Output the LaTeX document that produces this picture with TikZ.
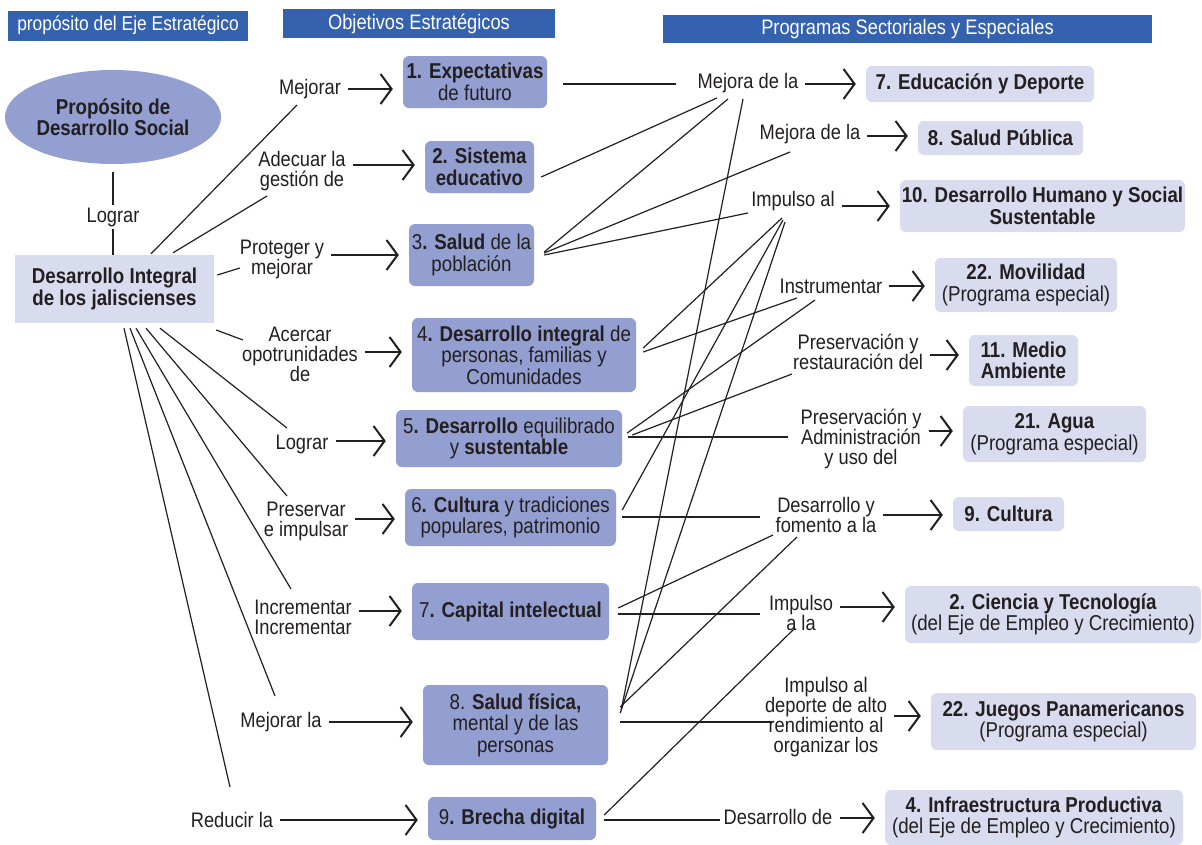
\documentclass[tikz,border=0pt]{standalone}
\usepackage{fontspec}
\setmainfont{Liberation Sans}[FakeStretch=0.87]
\usepackage{xcolor}
\usepackage{tikz}
\usetikzlibrary{arrows.meta,calc,shapes.geometric}

\definecolor{ejeazul}{HTML}{3562AE}
\definecolor{objazul}{HTML}{949FD1}
\definecolor{progazul}{HTML}{D9DBEF}
\definecolor{tinta}{HTML}{231F20}

\begin{document}
\begin{tikzpicture}[x=1pt, y=-1pt, color=tinta,
  font=\fontsize{21}{20}\selectfont,
  encab/.style={fill=ejeazul, text=white, inner sep=0pt},
  objbox/.style={fill=objazul, rounded corners=6pt, align=center, inner sep=0pt, font=\fontsize{21.5}{21.5}\selectfont},
  progbox/.style={fill=progazul, rounded corners=6pt, align=center, inner sep=0pt, font=\fontsize{21.5}{21.5}\selectfont},
  verbo/.style={align=center, inner sep=2pt},
  linea/.style={line width=1.2pt},
  flecha/.style={line width=2pt, -{Straight Barb[length=11pt,width=30pt]}, shorten <=5pt, shorten >=10pt}]
\path[use as bounding box, fill=white] (0,0) rectangle (1202,844);

% column headers
\node[encab, minimum width=240pt, minimum height=30pt, font=\fontsize{20}{20}\selectfont] (h1) at (128,25.5) {propósito del Eje Estratégico};
\node[encab, minimum width=272pt, minimum height=29pt] (h2) at (419,23.5) {Objetivos Estratégicos};
\node[encab, minimum width=489pt, minimum height=28pt] (h3) at (907.5,29) {Programas Sectoriales y Especiales};

% purpose -> integral development
\node[ellipse, fill=objazul, minimum width=206pt, minimum height=94pt, inner sep=0pt, align=center, font=\bfseries\fontsize{21.5}{21.5}\selectfont] (prop) at (113,117) {Propósito de\\Desarrollo Social};
\node[verbo] (lg0) at (113,217) {Lograr};
\node[fill=progazul, minimum width=199pt, minimum height=68pt, inner sep=0pt, align=center, font=\bfseries\fontsize{21.5}{21.5}\selectfont] (di) at (114.5,289) {Desarrollo Integral\\de los jaliscienses};
\draw[linea] ($(prop.south)+(0,8)$) -- (lg0.north);
\draw[linea] (lg0.south) -- (lg0.south |- di.north);

% verbs towards the objectives
\node[verbo] (vm1) at (310,89) {Mejorar};
\node[verbo] (vm2) at (302,171) {Adecuar la\\gestión de};
\node[verbo] (vm3) at (282,259) {Proteger y\\mejorar};
\node[verbo] (vm4) at (300,354) {Acercar\\opotrunidades\\de};
\node[verbo] (vm5) at (302,444) {Lograr};
\node[verbo] (vm6) at (306,521) {Preservar\\e impulsar};
\node[verbo] (vm7) at (303,617) {Incrementar\\Incrementar};
\node[verbo] (vm8) at (281,722) {Mejorar la};
\node[verbo] (vm9) at (232,820) {Reducir la};

% strategic objectives
\node[objbox, minimum width=144pt, minimum height=52pt] (o1) at (475,82) {\textbf{1. Expectativas}\\de futuro};
\node[objbox, minimum width=109pt, minimum height=52pt] (o2) at (479.5,167) {\textbf{2. Sistema}\\\textbf{educativo}};
\node[objbox, minimum width=125pt, minimum height=62pt] (o3) at (471.5,255) {3\textbf{. Salud} de la\\población};
\node[objbox, minimum width=224pt, minimum height=74pt] (o4) at (524,355) {4\textbf{. Desarrollo integral} de\\personas, familias y\\Comunidades};
\node[objbox, minimum width=226pt, minimum height=57pt] (o5) at (509,438.5) {5\textbf{. Desarrollo} equilibrado\\y \textbf{sustentable}};
\node[objbox, minimum width=211pt, minimum height=57pt] (o6) at (510.5,517.5) {6\textbf{. Cultura} y tradiciones\\populares, patrimonio};
\node[objbox, minimum width=197pt, minimum height=57pt] (o7) at (510.5,611.5) {7\textbf{. Capital intelectual}};
\node[objbox, minimum width=185pt, minimum height=80pt] (o8) at (515.5,725) {8. \textbf{Salud física,}\\mental y de las\\personas};
\node[objbox, minimum width=168pt, minimum height=43pt] (o9) at (512,818.5) {9\textbf{. Brecha digital}};

% verbs towards the programs
\node[verbo] (pa) at (748,83) {Mejora de la};
\node[verbo] (pb) at (810,134) {Mejora de la};
\node[verbo] (pc) at (793,201) {Impulso al};
\node[verbo] (pd) at (831,286) {Instrumentar};
\node[verbo] (pe) at (858,352) {Preservación y\\restauración del};
\node[verbo] (pf) at (861,439) {Preservación y\\Administración\\y uso del};
\node[verbo] (pg) at (826,515) {Desarrollo y\\fomento a la};
\node[verbo] (ph) at (801,613) {Impulso\\a la};
\node[verbo] (pi) at (826,717) {Impulso al\\deporte de alto\\rendimiento al\\organizar los};
\node[verbo] (pj) at (778,817) {Desarrollo de};

% sectoral and special programs
\node[progbox, minimum width=228pt, minimum height=36pt] (s7) at (980,84) {\textbf{7. Educación y Deporte}};
\node[progbox, minimum width=165pt, minimum height=34pt] (s8) at (1000.5,138) {\textbf{8. Salud Pública}};
\node[progbox, minimum width=285pt, minimum height=52pt] (s10) at (1042.5,206) {\textbf{10. Desarrollo Humano y Social}\\\textbf{Sustentable}};
\node[progbox, minimum width=182pt, minimum height=54pt] (s22) at (1026,285) {\textbf{22. Movilidad}\\(Programa especial)};
\node[progbox, minimum width=109pt, minimum height=51pt] (s11) at (1023.5,360.5) {\textbf{11. Medio}\\\textbf{Ambiente}};
\node[progbox, minimum width=183pt, minimum height=56pt] (s21) at (1054.5,434) {\textbf{21. Agua}\\(Programa especial)};
\node[progbox, minimum width=111pt, minimum height=34pt] (s9) at (1008.5,514) {\textbf{9. Cultura}};
\node[progbox, minimum width=296pt, minimum height=57pt] (s2) at (1053,614.5) {\textbf{2. Ciencia y Tecnología}\\(del Eje de Empleo y Crecimiento)};
\node[progbox, minimum width=265pt, minimum height=57pt] (sJ) at (1063.5,721.5) {\textbf{22. Juegos Panamericanos}\\(Programa especial)};
\node[progbox, minimum width=298pt, minimum height=55pt] (s4) at (1034,817.5) {\textbf{4. Infraestructura Productiva}\\(del Eje de Empleo y Crecimiento)};

% fan from the integral development box
\foreach \a/\ax/\ay/\v/\vx/\vy in {north/36.5/-1/vm1/-13/16, north/58.5/-2/vm2/-35/25,
    east/3/-14/vm3/-42/9, east/2/41/vm4/-57/-14, south/45.5/5/vm5/-15/-16,
    south/31.5/5/vm6/-19/-25, south/21.5/5/vm7/-12/-28, south/15.5/5/vm8/-6/-26,
    south/9.5/5/vm9/-2/-33}
  \draw[linea] ($(di.\a)+(\ax,\ay)$) -- ($(\v)+(\vx,\vy)$);

% verb arrows
\foreach \v/\b/\y in {vm1/o1/89, vm2/o2/165, vm3/o3/255, vm4/o4/352, vm5/o5/441,
    vm6/o6/519, vm7/o7/611, vm8/o8/722, vm9/o9/820,
    pa/s7/84, pb/s8/136, pc/s10/206, pd/s22/286, pe/s11/355,
    pf/s21/431, pg/s9/515, ph/s2/607, pi/sJ/716, pj/s4/818}
  \draw[flecha] (\v.east |- 0,\y) -- (\b.west |- 0,\y);

% objectives crossing over to the program verbs
\foreach \o/\ox/\oy/\p/\qx/\qy in {o1/16/2/pa/-72/1, o2/7/10/pa/-31/15, o3/10/-3/pa/-20/16,
    o3/10/-2/pb/-20/18, o3/10/0/pc/-45/12, o8/13/-15/pa/-5/16,
    o4/7/-7/pc/-11/17, o6/6/-7.5/pc/-10/19, o8/12/-12/pc/-8/21,
    o4/7/-3/pd/-34/12, o5/5/-5.5/pd/-16/14, o5/10/-3.5/pe/-66/22,
    o5/6/-1.5/pf/-73/-2, o6/6/-0.5/pg/-66/2, o7/9/-3.5/pg/-53/20,
    o8/12/-18/pg/-29/22, o7/9/2.5/ph/-41/1, o9/8/-3.5/ph/-6/15,
    o8/12/-3/pi/-54/5, o9/8/1.5/pj/-58/3}
  \draw[linea] ($(\o.east)+(\ox,\oy)$) -- ($(\p)+(\qx,\qy)$);
\end{tikzpicture}
\end{document}
